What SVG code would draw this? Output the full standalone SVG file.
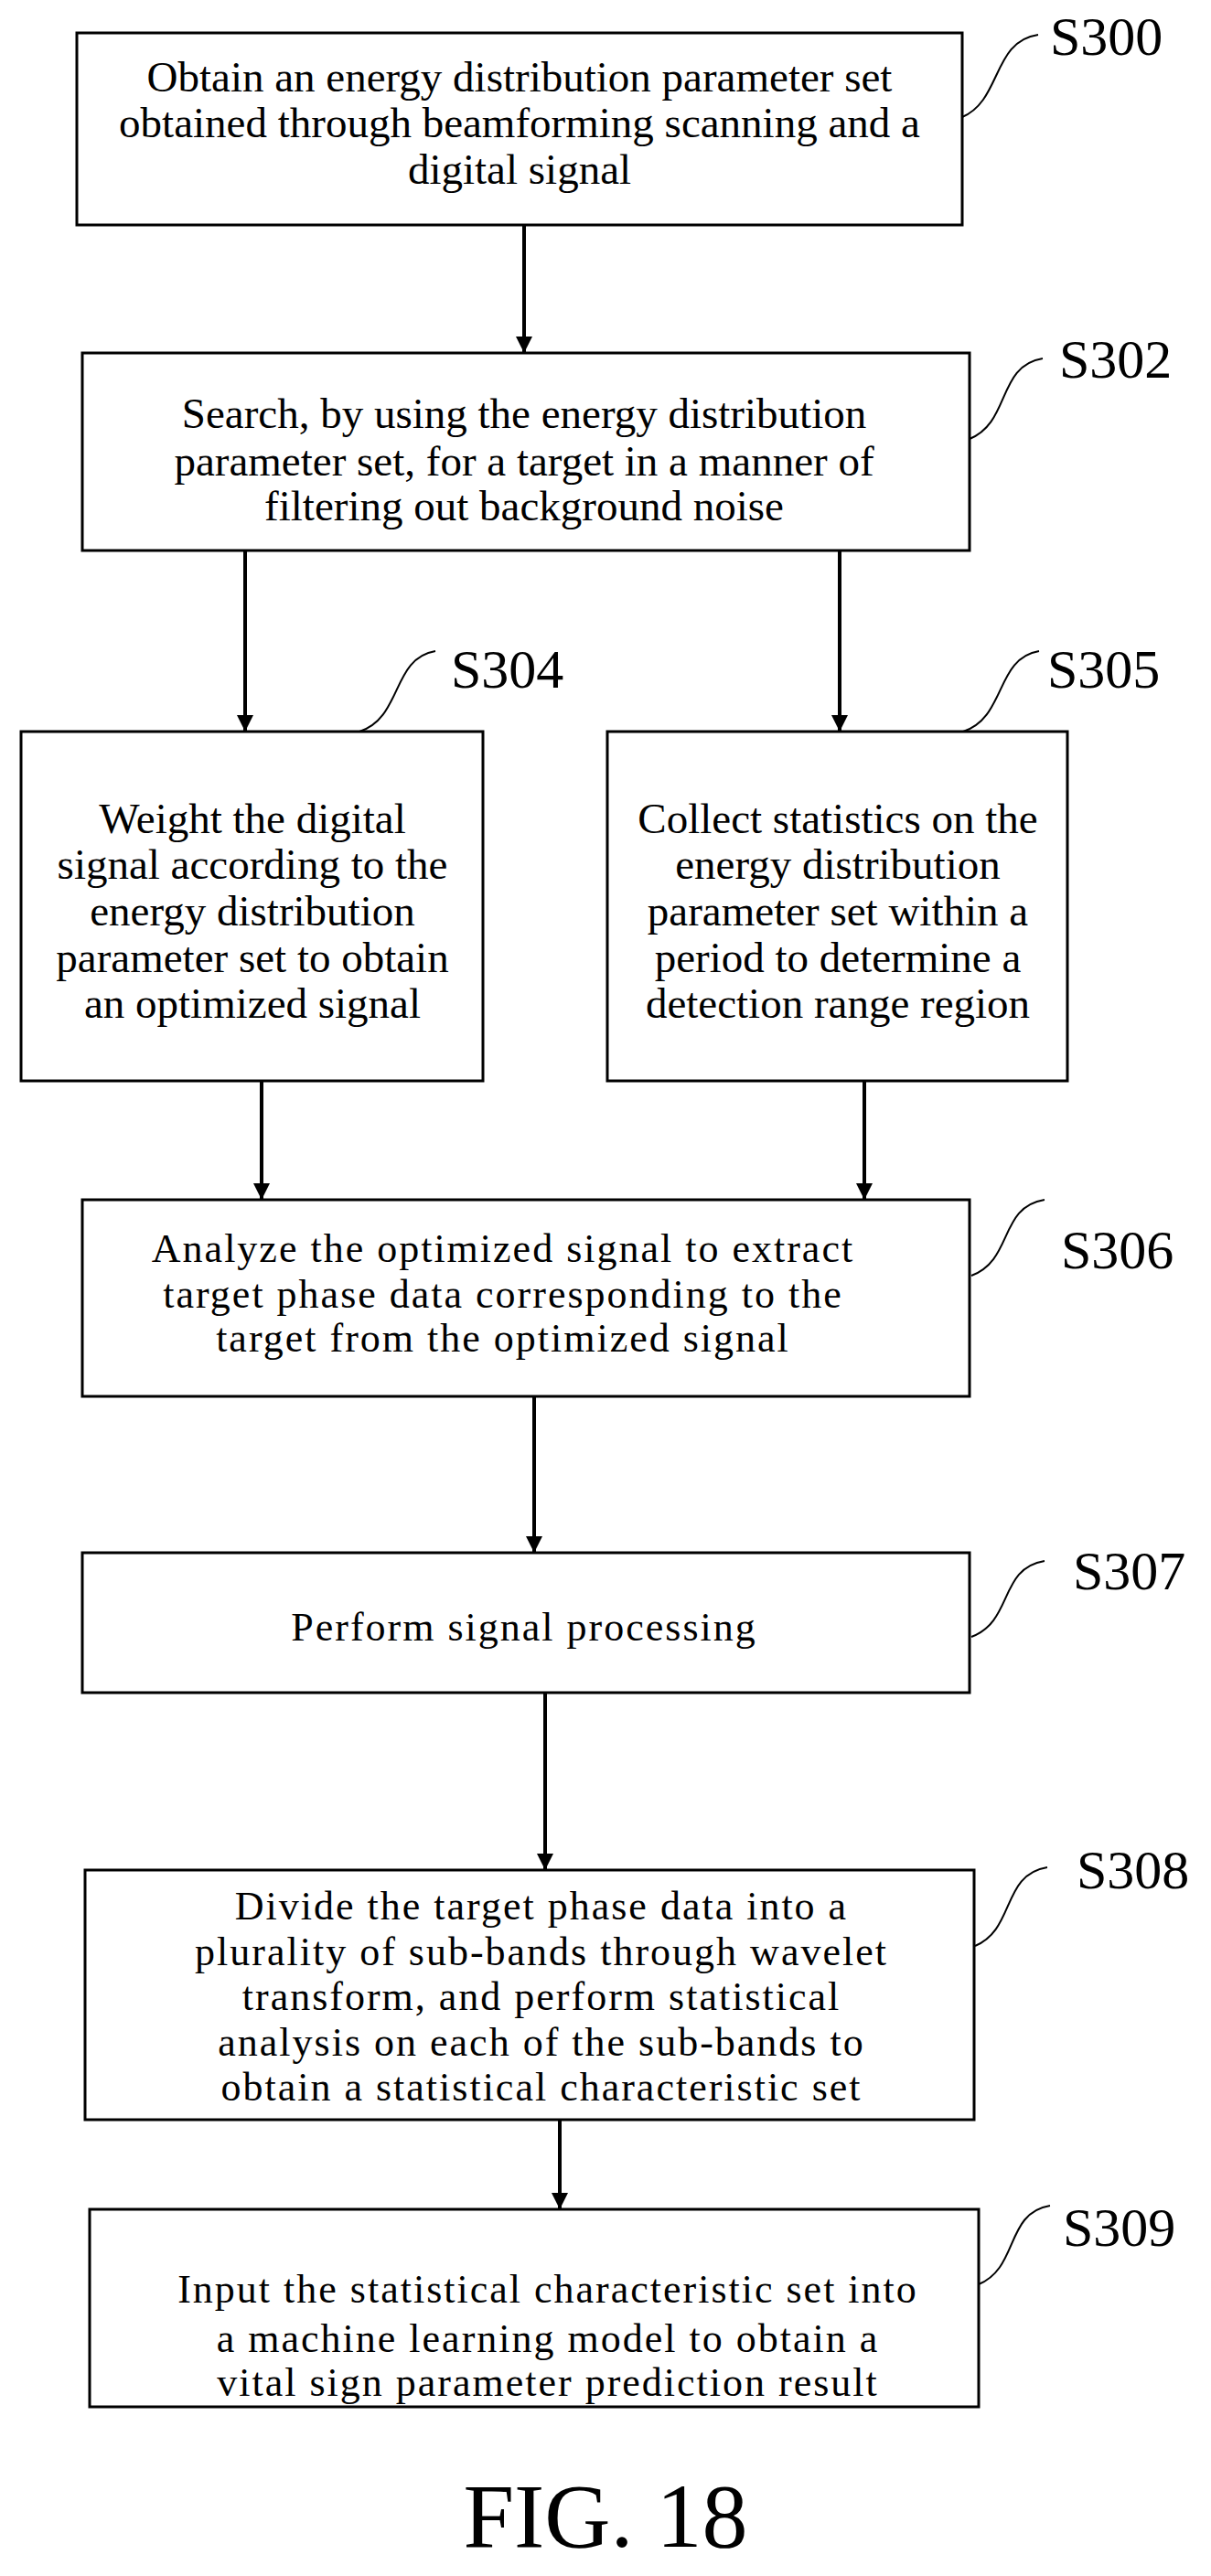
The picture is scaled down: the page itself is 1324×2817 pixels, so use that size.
<svg xmlns="http://www.w3.org/2000/svg" width="1324" height="2817" viewBox="0 0 1324 2817">
<defs>
<marker id="ah" markerWidth="18" markerHeight="24" refX="18" refY="9" orient="auto" markerUnits="userSpaceOnUse" viewBox="0 0 18 18"><path d="M0,0 L18,9 L0,18 Z" fill="#000"/></marker>
<style>
rect{fill:#fff;stroke:#000;stroke-width:3}
text{font-family:"Liberation Serif","Times New Roman",serif;fill:#000}
.t{font-size:47px;text-anchor:middle}
.s{font-size:44px;text-anchor:middle;letter-spacing:2px}
.l{font-size:60px}
.lead{fill:none;stroke:#000;stroke-width:2}
.c line{stroke:#000;stroke-width:4;marker-end:url(#ah)}
</style>
</defs>
<rect x="0" y="0" width="1324" height="2817" style="fill:#fff;stroke:none"/>
<g class="c">
<line x1="573" y1="246" x2="573" y2="386"/>
<line x1="268" y1="602" x2="268" y2="800"/>
<line x1="918" y1="602" x2="918" y2="800"/>
<line x1="286" y1="1182" x2="286" y2="1312"/>
<line x1="945" y1="1182" x2="945" y2="1312"/>
<line x1="584" y1="1527" x2="584" y2="1698"/>
<line x1="596" y1="1851" x2="596" y2="2045"/>
<line x1="612" y1="2318" x2="612" y2="2416"/>
</g>
<g id="S300"><rect x="84" y="36" width="968" height="210"/>
<text class="t" x="568" y="100">Obtain an energy distribution parameter set</text>
<text class="t" x="568" y="150">obtained through beamforming scanning and a</text>
<text class="t" x="568" y="201">digital signal</text>
<path class="lead" d="M1052,128 C1095,110 1085,45 1135,38"/><text class="l" x="1148" y="60">S300</text></g>
<g id="S302"><rect x="90" y="386" width="970" height="216"/>
<text class="t" x="573" y="468">Search, by using the energy distribution</text>
<text class="t" x="573" y="520">parameter set, for a target in a manner of</text>
<text class="t" x="573" y="569">filtering out background noise</text>
<path class="lead" d="M1060,480 C1105,462 1090,400 1140,392"/><text class="l" x="1158" y="413">S302</text></g>
<g id="S304"><rect x="23" y="800" width="505" height="382"/>
<text class="t" x="276" y="911">Weight the digital</text>
<text class="t" x="276" y="961">signal according to the</text>
<text class="t" x="276" y="1012">energy distribution</text>
<text class="t" x="276" y="1063">parameter set to obtain</text>
<text class="t" x="276" y="1113">an optimized signal</text>
<path class="lead" d="M393,800 C440,785 428,720 476,712"/><text class="l" x="493" y="752">S304</text></g>
<g id="S305"><rect x="664" y="800" width="503" height="382"/>
<text class="t" x="916" y="911">Collect statistics on the</text>
<text class="t" x="916" y="961">energy distribution</text>
<text class="t" x="916" y="1012">parameter set within a</text>
<text class="t" x="916" y="1063">period to determine a</text>
<text class="t" x="916" y="1113">detection range region</text>
<path class="lead" d="M1053,800 C1100,785 1088,720 1136,712"/><text class="l" x="1145" y="752">S305</text></g>
<g id="S306"><rect x="90" y="1312" width="970" height="215"/>
<text class="s" x="550" y="1380">Analyze the optimized signal to extract</text>
<text class="s" x="550" y="1430">target phase data corresponding to the</text>
<text class="s" x="550" y="1478">target from the optimized signal</text>
<path class="lead" d="M1062,1395 C1108,1378 1092,1320 1142,1312"/><text class="l" x="1160" y="1387">S306</text></g>
<g id="S307"><rect x="90" y="1698" width="970" height="153"/>
<text class="s" x="573" y="1794">Perform signal processing</text>
<path class="lead" d="M1062,1790 C1108,1773 1092,1715 1142,1707"/><text class="l" x="1173" y="1738">S307</text></g>
<g id="S308"><rect x="93" y="2045" width="972" height="273"/>
<text class="s" x="592" y="2099">Divide the target phase data into a</text>
<text class="s" x="592" y="2149">plurality of sub-bands through wavelet</text>
<text class="s" x="592" y="2198">transform, and perform statistical</text>
<text class="s" x="592" y="2248">analysis on each of the sub-bands to</text>
<text class="s" x="592" y="2297">obtain a statistical characteristic set</text>
<path class="lead" d="M1066,2128 C1110,2110 1095,2050 1145,2042"/><text class="l" x="1177" y="2065">S308</text></g>
<g id="S309"><rect x="98" y="2416" width="972" height="216"/>
<text class="s" x="599" y="2518">Input the statistical characteristic set into</text>
<text class="s" x="599" y="2572">a machine learning model to obtain a</text>
<text class="s" x="599" y="2620">vital sign parameter prediction result</text>
<path class="lead" d="M1070,2498 C1114,2480 1099,2420 1148,2412"/><text class="l" x="1162" y="2456">S309</text></g>
<text x="662" y="2785" style="font-size:100px;text-anchor:middle">FIG. 18</text>
</svg>
